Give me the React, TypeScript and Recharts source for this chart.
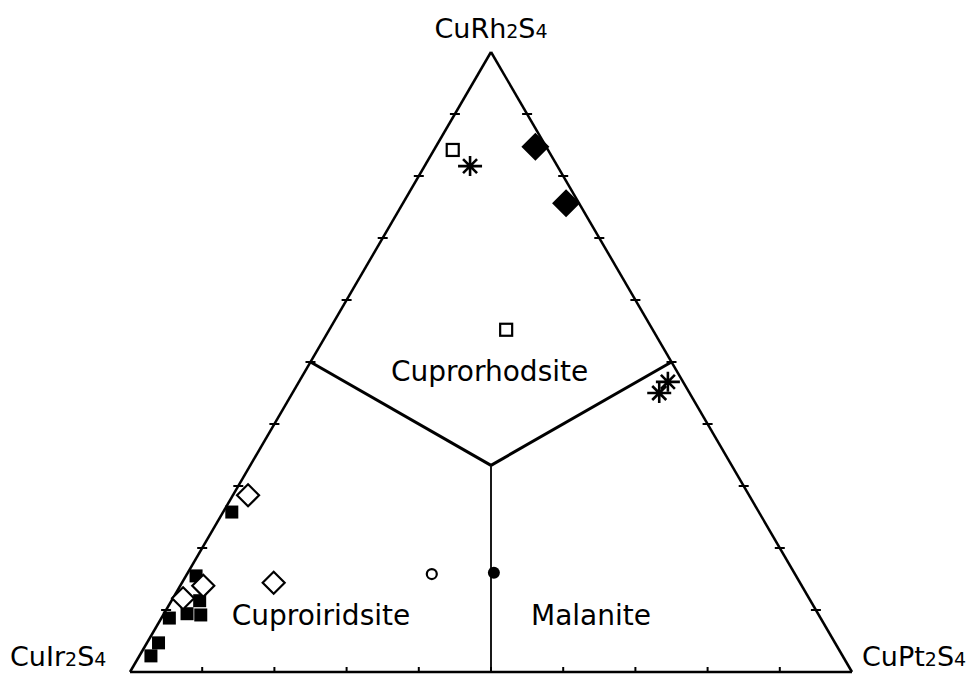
import { ScatterChart, Scatter, XAxis, YAxis, ReferenceLine, ReferenceDot } from 'recharts';

const H = Math.sqrt(3) / 2;

// mole fractions: Rh (top), Pt (right); Ir = 1 - Rh - Pt
const filledSquareRh = [0.258, 0.155, 0.115, 0.094, 0.092, 0.087, 0.047, 0.026];
const filledSquarePt = [0.012, 0.014, 0.039, 0.032, 0.052, 0.011, 0.016, 0.016];
const openDiamondRh = [0.285, 0.144, 0.139, 0.119];
const openDiamondPt = [0.021, 0.127, 0.032, 0.014];
const filledDiamondRh = [0.847, 0.756];
const filledDiamondPt = [0.138, 0.226];
const openSquareRh = [0.842, 0.552];
const openSquarePt = [0.026, 0.245];
const asteriskRh = [0.816, 0.468, 0.45];
const asteriskPt = [0.063, 0.511, 0.508];
const openCircleRh = [0.158];
const openCirclePt = [0.339];
const filledCircleRh = [0.16];
const filledCirclePt = [0.424];

const tickSteps = [0.1, 0.2, 0.3, 0.4, 0.5, 0.6, 0.7, 0.8, 0.9];

const FONT = '"DejaVu Sans", Verdana, sans-serif';

function toXY(rh: number[], pt: number[]) {
   return rh.map((r, i) => ({ x: pt[i] + r / 2, y: r * H }));
}

const leftTicks = tickSteps.map(t => ({ x: t / 2, y: t * H }));
const rightTicks = tickSteps.map(t => ({ x: 1 - t / 2, y: t * H }));
const baseTicks = tickSteps.map(t => ({ x: t, y: 0 }));

const sideTick = (p: any) => <path d={`M${p.cx - 5},${p.cy}h10`} stroke="#000" strokeWidth={2} />;
const baseTick = (p: any) => <path d={`M${p.cx},${p.cy}v-5`} stroke="#000" strokeWidth={2} />;

const filledSquare = (p: any) => <rect x={p.cx - 6.5} y={p.cy - 6.5} width={13} height={13} fill="#000" />;
const openSquare = (p: any) => <rect x={p.cx - 6} y={p.cy - 6} width={12} height={12} fill="#fff" stroke="#000" strokeWidth={2.2} />;
const openDiamond = (p: any) => (
   <path d={`M${p.cx},${p.cy - 11}L${p.cx + 11},${p.cy}L${p.cx},${p.cy + 11}L${p.cx - 11},${p.cy}Z`} fill="#fff" stroke="#000" strokeWidth={2.2} />
);
const filledDiamond = (p: any) => (
   <path d={`M${p.cx},${p.cy - 14}L${p.cx + 14},${p.cy}L${p.cx},${p.cy + 14}L${p.cx - 14},${p.cy}Z`} fill="#000" />
);
const asterisk = (p: any) => (
   <path
      d={`M${p.cx - 12},${p.cy}h24M${p.cx},${p.cy - 10}v20M${p.cx - 7},${p.cy - 7}l14,14M${p.cx + 7},${p.cy - 7}l-14,14`}
      stroke="#000" strokeWidth={2.6}
   />
);
const openCircle = (p: any) => <circle cx={p.cx} cy={p.cy} r={5} fill="#fff" stroke="#000" strokeWidth={2.2} />;
const filledCircle = (p: any) => <circle cx={p.cx} cy={p.cy} r={6} fill="#000" />;

function formula(el: string, dx: number, dy: number, anchor: string) {
   return (p: any) => (
      <text x={p.cx + dx} y={p.cy + dy} textAnchor={anchor} fontFamily={FONT} fontSize={27} fill="#000">
         Cu{el}<tspan fontSize={19}>2</tspan>S<tspan fontSize={19}>4</tspan>
      </text>
   );
}

function regionLabel(name: string) {
   return (p: any) => (
      <text x={p.cx} y={p.cy} textAnchor="middle" fontFamily={FONT} fontSize={28} fill="#000">{name}</text>
   );
}

const line = { stroke: '#000', strokeWidth: 2.5, ifOverflow: 'visible' as const };

export default function App() {
   return (
      <div style={{ position: 'absolute', left: 0, top: 0, background: '#fff' }}>
         <ScatterChart width={978} height={675} margin={{ top: 52, right: 126, bottom: 3, left: 130 }}>
            <XAxis type="number" dataKey="x" domain={[0, 1]} hide />
            <YAxis type="number" dataKey="y" domain={[0, H]} hide />

            <ReferenceLine segment={[{ x: 0, y: 0 }, { x: 1, y: 0 }]} {...line} />
            <ReferenceLine segment={[{ x: 0, y: 0 }, { x: 0.5, y: H }]} {...line} />
            <ReferenceLine segment={[{ x: 1, y: 0 }, { x: 0.5, y: H }]} {...line} />
            <ReferenceLine segment={[{ x: 0.5, y: H / 3 }, { x: 0.25, y: H / 2 }]} {...line} strokeWidth={3} />
            <ReferenceLine segment={[{ x: 0.5, y: H / 3 }, { x: 0.75, y: H / 2 }]} {...line} strokeWidth={3} />
            <ReferenceLine segment={[{ x: 0.5, y: H / 3 }, { x: 0.5, y: 0 }]} {...line} strokeWidth={1.8} />

            <Scatter data={leftTicks} shape={sideTick} isAnimationActive={false} />
            <Scatter data={rightTicks} shape={sideTick} isAnimationActive={false} />
            <Scatter data={baseTicks} shape={baseTick} isAnimationActive={false} />

            <Scatter data={toXY(filledSquareRh, filledSquarePt)} shape={filledSquare} isAnimationActive={false} />
            <Scatter data={toXY(openDiamondRh, openDiamondPt)} shape={openDiamond} isAnimationActive={false} />
            <Scatter data={toXY(filledDiamondRh, filledDiamondPt)} shape={filledDiamond} isAnimationActive={false} />
            <Scatter data={toXY(openSquareRh, openSquarePt)} shape={openSquare} isAnimationActive={false} />
            <Scatter data={toXY(asteriskRh, asteriskPt)} shape={asterisk} isAnimationActive={false} />
            <Scatter data={toXY(openCircleRh, openCirclePt)} shape={openCircle} isAnimationActive={false} />
            <Scatter data={toXY(filledCircleRh, filledCirclePt)} shape={filledCircle} isAnimationActive={false} />

            <ReferenceDot x={0.5} y={H} ifOverflow="visible" shape={formula('Rh', 0, -14, 'middle')} />
            <ReferenceDot x={0} y={0} ifOverflow="visible" shape={formula('Ir', -120, -6, 'start')} />
            <ReferenceDot x={1} y={0} ifOverflow="visible" shape={formula('Pt', 10, -6, 'start')} />

            <ReferenceDot x={0.498} y={0.4065} ifOverflow="visible" shape={regionLabel('Cuprorhodsite')} />
            <ReferenceDot x={0.2645} y={0.0656} ifOverflow="visible" shape={regionLabel('Cuproiridsite')} />
            <ReferenceDot x={0.6385} y={0.0656} ifOverflow="visible" shape={regionLabel('Malanite')} />
         </ScatterChart>
      </div>
   );
}
